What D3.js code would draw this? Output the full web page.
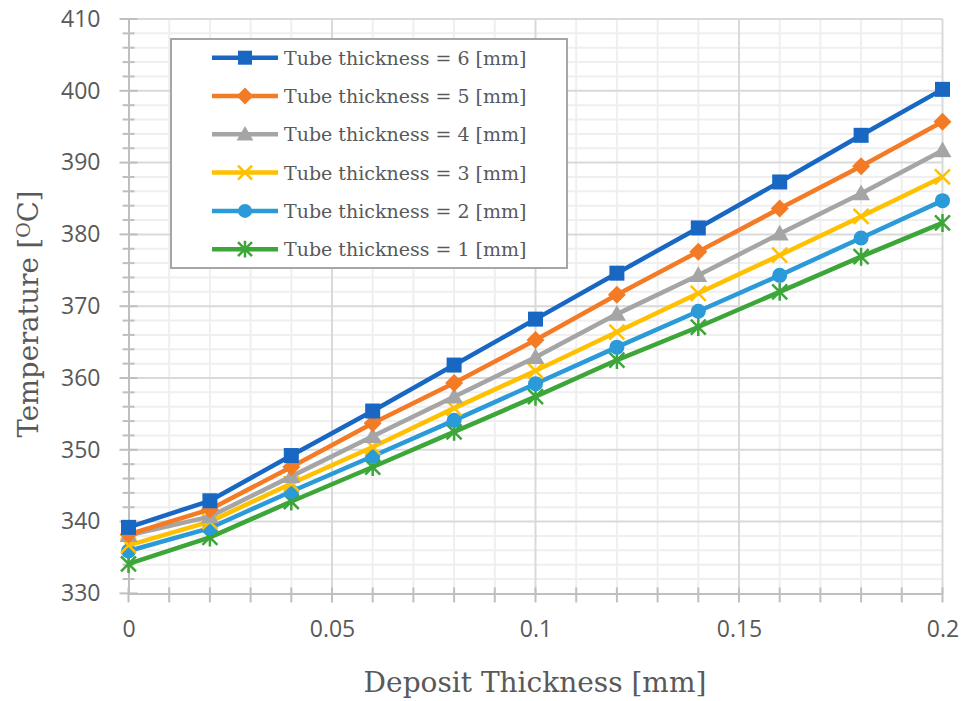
<!DOCTYPE html>
<html><head><meta charset="utf-8">
<script src="https://cdn.jsdelivr.net/npm/d3@7"></script>
<style>body{margin:0;background:#fff}svg{display:block}</style>
</head><body>
<svg id="c" width="971" height="701"></svg>
<script>
const xValues = [0, 0.02, 0.04, 0.06, 0.08, 0.1, 0.12, 0.14, 0.16, 0.18, 0.2];
const seriesNames = ["Tube thickness = 6 [mm]","Tube thickness = 5 [mm]","Tube thickness = 4 [mm]","Tube thickness = 3 [mm]","Tube thickness = 2 [mm]","Tube thickness = 1 [mm]"];
const t6 = [339.2, 342.9, 349.2, 355.4, 361.8, 368.2, 374.6, 380.9, 387.3, 393.8, 400.2];
const t5 = [338.2, 341.7, 347.6, 353.7, 359.3, 365.3, 371.6, 377.6, 383.6, 389.5, 395.7];
const t4 = [338.1, 340.7, 346.3, 351.9, 357.4, 362.9, 368.9, 374.3, 380.1, 385.7, 391.7];
const t3 = [336.7, 340.0, 345.3, 350.4, 355.8, 361.0, 366.4, 371.8, 377.1, 382.5, 388.0];
const t2 = [335.9, 339.1, 344.2, 349.1, 354.1, 359.2, 364.3, 369.3, 374.3, 379.5, 384.7];
const t1 = [334.1, 337.8, 342.8, 347.6, 352.5, 357.4, 362.5, 367.1, 372.0, 376.9, 381.6];
const xTickLabels = [0, 0.05, 0.1, 0.15, 0.2];
const yTickLabels = [330, 340, 350, 360, 370, 380, 390, 400, 410];
const seriesColors = ["#1767C3", "#F47B25", "#A5A5A5", "#FFC000", "#2A9AD8", "#3CA638"];
const markerTypes = ["square", "diamond", "triangle", "x", "circle", "star"];

const allSeries = [t6, t5, t4, t3, t2, t1];
const svg = d3.select("#c");
const x = d3.scaleLinear().domain([0, 0.2]).range([128.5, 942.5]);
const y = d3.scaleLinear().domain([330, 410]).range([593.4, 19]);

const tickColor = "#595959";
// minor grid
const gx = svg.append("g");
gx.selectAll(".hm").data(d3.range(332, 410.1, 2).filter(v => v % 10 !== 0)).join("line")
  .attr("x1", x(0)).attr("x2", x(0.2)).attr("y1", d => y(d)).attr("y2", d => y(d))
  .attr("stroke", "#efefef").attr("stroke-width", 2);
gx.selectAll(".vm").data(d3.range(1, 21).filter(i => i % 5 !== 0).map(i => i / 100)).join("line")
  .attr("y1", y(330)).attr("y2", y(410)).attr("x1", d => x(d)).attr("x2", d => x(d))
  .attr("stroke", "#efefef").attr("stroke-width", 2);
// major grid
gx.selectAll(".hM").data(yTickLabels.slice(1)).join("line")
  .attr("x1", x(0)).attr("x2", x(0.2)).attr("y1", d => y(d)).attr("y2", d => y(d))
  .attr("stroke", "#d9d9d9").attr("stroke-width", 2);
gx.selectAll(".vM").data(xTickLabels.slice(1)).join("line")
  .attr("y1", y(330)).attr("y2", y(410)).attr("x1", d => x(d)).attr("x2", d => x(d))
  .attr("stroke", "#d9d9d9").attr("stroke-width", 2);

// axes
const axisColor = "#bfbfbf";
const yAxis = svg.append("g").attr("transform", `translate(${x(0)},0)`)
  .call(d3.axisLeft(y).tickValues(yTickLabels).tickSize(0).tickPadding(28).tickFormat(d3.format("d")));
yAxis.select(".domain").attr("stroke", axisColor).attr("stroke-width", 2);
yAxis.selectAll("text").attr("fill", tickColor).style("font-family", "'Open Sans', sans-serif").style("font-size", "23px");
const xAxis = svg.append("g").attr("transform", `translate(0,${y(330)})`)
  .call(d3.axisBottom(x).tickValues(xTickLabels).tickSize(0).tickPadding(27).tickFormat(d => d3.format("")(d)));
xAxis.select(".domain").attr("stroke", axisColor).attr("stroke-width", 2);
xAxis.selectAll("text").attr("fill", tickColor).style("font-family", "'Open Sans', sans-serif").style("font-size", "23px");
// tick marks (cross)
svg.append("g").selectAll("line").data(d3.range(330, 410.1, 2)).join("line")
  .attr("x1", d => x(0) - (d % 10 === 0 ? 9 : 6)).attr("x2", d => x(0) + (d % 10 === 0 ? 9 : 6))
  .attr("y1", d => y(d)).attr("y2", d => y(d)).attr("stroke", axisColor).attr("stroke-width", 2);
svg.append("g").selectAll("line").data(d3.range(0, 21).map(i => i / 100)).join("line")
  .attr("y1", y(330) - 6).attr("y2", y(330) + 9)
  .attr("x1", d => x(d)).attr("x2", d => x(d)).attr("stroke", axisColor).attr("stroke-width", 2);

// axis titles
svg.append("text").attr("x", 535).attr("y", 692).attr("text-anchor", "middle")
  .attr("fill", tickColor).style("font-family", "'DejaVu Serif', serif").style("font-size", "28px")
  .text("Deposit Thickness [mm]");
const yt = svg.append("text").attr("transform", "translate(38,314) rotate(-90)").attr("text-anchor", "middle")
  .attr("fill", tickColor).style("font-family", "'DejaVu Serif', serif").style("font-size", "27.5px");
yt.append("tspan").text("Temperature [");
yt.append("tspan").attr("dy", -8).style("font-size", "19px").text("O");
yt.append("tspan").attr("dy", 8).text("C]");

// markers
function drawMarker(g, type, color, size) {
  const s = size;
  if (type === "square") g.append("rect").attr("x", -s/2).attr("y", -s/2).attr("width", s).attr("height", s).attr("fill", color);
  else if (type === "diamond") g.append("path").attr("d", `M0,${-s*0.6}L${s*0.6},0L0,${s*0.6}L${-s*0.6},0Z`).attr("fill", color);
  else if (type === "triangle") g.append("path").attr("d", `M0,${-s*0.6}L${s*0.6},${s*0.45}L${-s*0.6},${s*0.45}Z`).attr("fill", color);
  else if (type === "circle") g.append("circle").attr("r", s/2).attr("fill", color);
  else if (type === "x") g.append("path").attr("d", `M${-s/2},${-s/2}L${s/2},${s/2}M${s/2},${-s/2}L${-s/2},${s/2}`).attr("stroke", color).attr("stroke-width", 2.5).attr("fill", "none");
  else if (type === "star") g.append("path").attr("d", `M${-s/2},${-s/2}L${s/2},${s/2}M${s/2},${-s/2}L${-s/2},${s/2}M0,${-s*0.6}L0,${s*0.6}`).attr("stroke", color).attr("stroke-width", 2.5).attr("fill", "none");
}

const line = d3.line().x((d, i) => x(xValues[i])).y(d => y(d));
for (let k = allSeries.length - 1; k >= 0; k--) {
  const g = svg.append("g");
  g.append("path").datum(allSeries[k]).attr("d", line).attr("fill", "none")
    .attr("stroke", seriesColors[k]).attr("stroke-width", 4.5).attr("stroke-linejoin", "round");
  allSeries[k].forEach((v, i) => {
    const mg = g.append("g").attr("transform", `translate(${x(xValues[i])},${y(v)})`);
    drawMarker(mg, markerTypes[k], seriesColors[k], 15);
  });
}

// legend
const lg = svg.append("g");
lg.append("rect").attr("x", 171).attr("y", 39).attr("width", 396).attr("height", 229)
  .attr("fill", "#fff").attr("stroke", "#a6a6a6").attr("stroke-width", 2);
seriesNames.forEach((nm, k) => {
  const cy = 57.7 + k * 38.3;
  lg.append("line").attr("x1", 212).attr("x2", 278).attr("y1", cy).attr("y2", cy)
    .attr("stroke", seriesColors[k]).attr("stroke-width", 4.5);
  const mg = lg.append("g").attr("transform", `translate(245,${cy})`);
  drawMarker(mg, markerTypes[k], seriesColors[k], 14);
  lg.append("text").attr("x", 284).attr("y", cy + 7).attr("fill", tickColor)
    .style("font-family", "'DejaVu Serif', serif").style("font-size", "19px").text(nm);
});
</script>
</body></html>
